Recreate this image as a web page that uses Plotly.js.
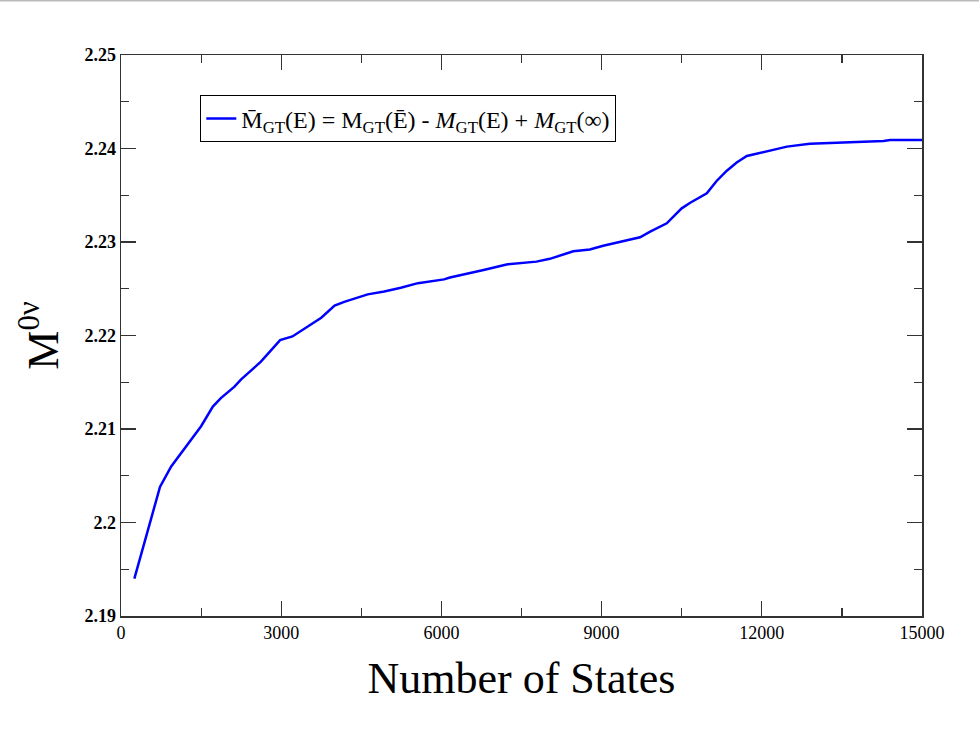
<!DOCTYPE html>
<html>
<head>
<meta charset="utf-8">
<script src="https://cdn.plot.ly/plotly-3.0.1.min.js"></script>
<style>html,body{margin:0;padding:0;background:#fff;}#chart{width:979px;height:736px;}</style>
</head>
<body>
<div id="chart"></div>
<script>
const numStates = [250, 730, 940, 1310, 1500, 1720, 1870, 2120, 2250, 2620, 2980, 3210, 3400, 3750, 4000, 4180, 4620, 4930, 5240, 5560, 6050, 6160, 6790, 7220, 7780, 8030, 8470, 8780, 9030, 9410, 9720, 9910, 10220, 10500, 10660, 10970, 11150, 11340, 11530, 11720, 12030, 12340, 12470, 12900, 13400, 13650, 14280, 14400, 15000];
const mValues = [2.1940, 2.2038, 2.2060, 2.2088, 2.2103, 2.2124, 2.2133, 2.2145, 2.2153, 2.2172, 2.2195, 2.2199, 2.2206, 2.2219, 2.2232, 2.2236, 2.2244, 2.2247, 2.2251, 2.2256, 2.2260, 2.2262, 2.2270, 2.2276, 2.2279, 2.2282, 2.2290, 2.2292, 2.2296, 2.2301, 2.2305, 2.2311, 2.2320, 2.2336, 2.2342, 2.2352, 2.2365, 2.2376, 2.2385, 2.2392, 2.2396, 2.2400, 2.2402, 2.2405, 2.2406, 2.2407, 2.2408, 2.2409, 2.2409];
const xTicks = [0, 3000, 6000, 9000, 12000, 15000];
const xTickLabels = ['0', '3000', '6000', '9000', '12000', '15000'];
const yTicks = [2.19, 2.2, 2.21, 2.22, 2.23, 2.24, 2.25];
const yTickLabels = ['2.19', '2.2', '2.21', '2.22', '2.23', '2.24', '2.25'];
const seriesName = 'M\u0304<sub>GT</sub>(E) = M<sub>GT</sub>(E\u0304) - <i>M</i><sub>GT</sub>(E) + <i>M</i><sub>GT</sub>(\u221E)';

const serif = 'Liberation Serif, Times New Roman, serif';
const axisCommon = {
  showgrid: false, zeroline: false, showline: true, linecolor: '#333', linewidth: 1.5,
  mirror: 'allticks', ticks: 'inside', ticklen: 15, tickwidth: 1.2, tickcolor: '#333',
  tickfont: {family: serif, size: 18, color: '#000'}
};
const trace = {
  x: numStates, y: mValues, type: 'scatter', mode: 'lines', name: seriesName,
  line: {color: '#0000ff', width: 2.5}
};
const layout = {
  width: 979, height: 736,
  margin: {l: 121, r: 57, t: 55, b: 120},
  paper_bgcolor: '#fff', plot_bgcolor: '#fff',
  showlegend: true,
  legend: {
    x: 0.099, y: 0.928, xanchor: 'left', yanchor: 'top',
    bordercolor: '#000', borderwidth: 1, bgcolor: '#fff',
    font: {family: serif, size: 24, color: '#000'}
  },
  xaxis: Object.assign({}, axisCommon, {
    range: [0, 15000], tickvals: xTicks, ticktext: xTickLabels,
    minor: {dtick: 1500, ticks: 'inside', ticklen: 8, tickcolor: '#333', tickwidth: 1.2, showgrid: false},
    title: {text: 'Number of States', font: {family: serif, size: 44, color: '#000'}, standoff: 20}
  }),
  yaxis: Object.assign({}, axisCommon, {
    range: [2.19, 2.25], tickvals: yTicks, ticktext: yTickLabels,
    minor: {dtick: 0.005, ticks: 'inside', ticklen: 8, tickcolor: '#333', tickwidth: 1.2, showgrid: false},
    tickfont: {family: serif, size: 18, color: '#000', weight: 'bold'},
    title: {text: 'M<sup>0\u03BD</sup>', font: {family: serif, size: 44, color: '#000'}, standoff: 12}
  }),
  shapes: [{type: 'line', xref: 'paper', yref: 'paper', x0: -0.2, x1: 1.1, y0: 1.097, y1: 1.097, line: {color: '#bbb', width: 2}}]
};
Plotly.newPlot('chart', [trace], layout, {displayModeBar: false, staticPlot: true});
</script>
</body>
</html>
